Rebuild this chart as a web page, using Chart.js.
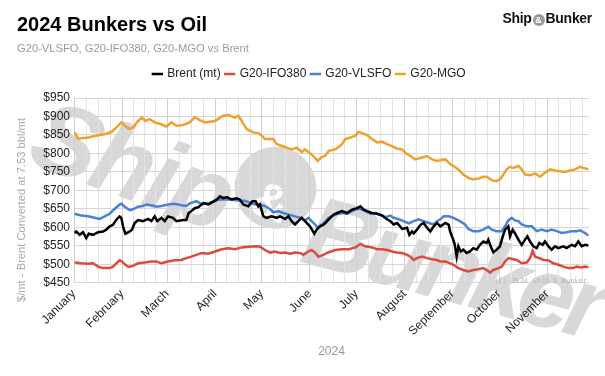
<!DOCTYPE html>
<html>
<head>
<meta charset="utf-8">
<script src="https://cdn.jsdelivr.net/npm/chart.js@4.4.1/dist/chart.umd.min.js"></script>
<style>
  body { margin: 0; background: #fff; }
  #wrap { position: relative; width: 605px; height: 376px; font-family: "Liberation Sans", Arial, sans-serif; }
  #chart { position: absolute; left: 0; top: 0; }
  .title { position: absolute; left: 17px; top: 13px; font-weight: bold; font-size: 20px; color: #000; }
  .subtitle { position: absolute; left: 17px; top: 42px; font-size: 11.2px; color: #9a9a9a; }
  .logo { position: absolute; right: 13px; top: 10px; font-weight: bold; font-size: 14px; color: #111; letter-spacing: -0.3px; }
  .logo .amp { display: inline-block; width: 12px; height: 12px; border-radius: 50%; background: #9a9a9a; color: #fff;
               font-size: 9px; line-height: 12px; text-align: center; vertical-align: 0px; margin: 0 1px; letter-spacing: 0; }
</style>
</head>
<body>
<div id="wrap">
  <canvas id="chart" width="605" height="376"></canvas>
  <div class="title">2024 Bunkers vs Oil</div>
  <div class="subtitle">G20-VLSFO, G20-IFO380, G20-MGO vs Brent</div>
  <div class="logo">Ship<span class="amp">&amp;</span>Bunker</div>
</div>
<script>
// ─── Data (x = day of 2024, 0 = 1 Jan; y = $/mt) ─────────────────────────────
const monthNames = ['January', 'February', 'March', 'April', 'May', 'June', 'July',
                    'August', 'September', 'October', 'November'];
const monthStarts = [0, 31, 60, 91, 121, 152, 182, 213, 244, 274, 305, 335];
const yTicks = [450, 500, 550, 600, 650, 700, 750, 800, 850, 900, 950];
const xMax = 332;

const brent = [
  [0.4,585],[1.5,589],[3.7,580],[5.8,587],[7.9,571],[9.5,583],[12.3,580],[15.5,587],[18.7,589],[20.8,594],
  [23,603],[25.1,607],[27.3,621],[29.4,630],[30.5,626],[31.6,603],[33.1,583],[35.2,587],[37.4,594],[39.1,612],
  [41.3,620],[44.5,617],[47.7,623],[49.9,617],[52,630],[53.7,617],[56.3,626],[58.5,617],[60.6,630],[63.8,626],
  [66,617],[70.3,620],[72.4,620],[73.9,639],[76.1,646],[77.8,652],[80.2,655],[83.4,666],[86.6,662],[88.7,667],
  [92,675],[94.1,684],[96.3,679],[98.4,682],[101.6,676],[104.9,679],[107,675],[109.2,662],[112.4,657],[115,671],
  [117.1,671],[118.8,657],[119.9,662],[122.1,630],[124.2,626],[127.4,630],[130.7,626],[132.8,630],[136,623],[138.2,630],
  [140.3,617],[142.5,608],[144.6,617],[146.8,626],[148.9,617],[152.1,603],[153.7,592],[154.9,583],[156.4,594],[158.6,603],
  [160.7,607],[162,612],[164.2,622],[167.4,635],[169.6,639],[172.8,644],[176,639],[179.2,648],[182.5,652],[184.6,657],
  [186.8,648],[188.9,644],[192.1,639],[195.4,637],[198.6,632],[201.8,622],[204,617],[206.1,608],[208.3,612],[211.5,596],
  [214.7,599],[216.2,580],[217.9,589],[219,584],[221.1,594],[223.3,607],[225.4,612],[227.6,599],[229.7,589],[231.9,603],
  [234,612],[236.2,603],[239.4,612],[241.6,607],[242.4,590],[244.1,571],[245.4,555],[246.7,521],[247.8,549],[249.3,535],
  [251,540],[253.1,531],[255.3,535],[257.4,544],[259.6,540],[261.7,553],[263.9,562],[266,558],[267.1,567],[268.6,549],
  [270.3,533],[272.5,540],[274.6,549],[276.4,576],[277.9,594],[280,603],[281.1,576],[282.8,594],[284.3,584],[286.5,567],
  [288.6,553],[290.8,567],[292.3,576],[294,562],[296.1,549],[298.3,544],[300,558],[302.1,553],[303.6,562],[305.8,549],
  [307.9,540],[310.1,549],[312.2,544],[315.5,549],[317.6,544],[320.8,553],[323,549],[325.1,562],[327.3,549],[329.4,553],
  [331.6,551]
];

const ifo380 = [
  [0.4,505],[4.7,503],[9,502],[12.3,503],[15.5,494],[18.7,490],[23,490],[25.1,494],[27.3,503],[29.4,511],
  [30.9,508],[33.1,499],[35.2,493],[38,496],[41.3,503],[45.6,505],[49.9,508],[53.1,508],[56.3,503],[60.6,508],
  [64.9,511],[69.2,512],[72.4,517],[75.7,521],[78.9,526],[82.3,531],[86.6,529],[90.9,535],[95.2,541],[99.5,544],
  [103.8,541],[108.1,546],[112.4,548],[117.8,549],[119.9,548],[123.1,539],[126.4,532],[129.6,535],[132.8,531],[136,532],
  [139.3,529],[142.5,532],[145.7,531],[147.8,526],[151.1,535],[153.2,539],[155.4,532],[157.5,521],[160.7,526],[164.2,533],
  [168.5,539],[172.8,541],[177.1,541],[181.4,546],[184.6,555],[187.8,549],[192.1,546],[195.4,541],[198.6,541],[201.8,539],
  [205,535],[208.3,532],[211.5,531],[214.7,526],[216.9,521],[219,512],[221.1,517],[224.4,521],[227.6,517],[230.8,514],
  [234,512],[236.2,508],[239.4,508],[242.6,503],[244.6,499],[247.8,490],[251,485],[254.2,481],[257.4,485],[260.7,487],
  [263.9,490],[266,485],[268.2,478],[270.3,485],[273.6,490],[275.7,494],[277.9,508],[280,517],[283.2,514],[285.4,512],
  [288.6,503],[291.8,505],[294,517],[295.7,537],[297.2,521],[300,517],[302.6,512],[305.8,511],[309,503],[312.2,499],
  [315.5,494],[318.7,490],[321.9,490],[324.1,494],[327.3,492],[329.4,494],[331.6,492]
];

const vlsfo = [
  [0.4,637],[4.7,632],[9,630],[13.3,626],[16.5,623],[19.8,630],[23,637],[26.2,650],[29.4,662],[30.5,664],
  [32.7,656],[35.9,647],[38,649],[41.3,656],[44.5,658],[46.6,662],[49.9,660],[53.1,656],[56.3,658],[60.6,662],
  [64.9,664],[69.2,660],[72.4,658],[74.6,665],[78.9,671],[82.3,663],[87.7,667],[93,675],[97.4,676],[101.6,675],
  [105.9,673],[110.2,672],[113.5,667],[116.7,662],[118.8,662],[123.1,658],[126.4,649],[128.5,641],[131.7,644],[135,639],
  [138.2,635],[142.5,630],[145.7,626],[148.9,619],[151.1,626],[153.2,617],[155.4,608],[157.1,599],[159.2,606],[161.8,615],
  [164.2,626],[168.5,635],[172.8,639],[176,637],[179.2,644],[182.5,650],[184.6,650],[187.8,644],[191.1,637],[194.3,639],
  [197.5,635],[200.7,628],[204,632],[206.1,626],[209.3,622],[212.5,617],[215.8,611],[219,617],[222.2,622],[225.4,617],
  [228.7,612],[231.9,608],[234,617],[236.2,622],[238.3,630],[241.6,630],[244.6,626],[248.8,617],[252.1,608],[254.2,596],
  [257.4,590],[260.7,590],[263.9,594],[267.1,602],[269.3,594],[272.5,590],[275.7,590],[277.9,603],[280,619],[282.2,626],
  [284.3,619],[286.5,617],[288.6,608],[291.8,603],[295.1,603],[298.3,590],[301.5,594],[304.7,590],[307.9,594],[311.2,590],
  [314.4,585],[317.6,587],[320.8,590],[324.1,590],[326.2,592],[329.4,585],[331.6,578]
];

const mgo = [
  [0.4,857],[2.6,840],[9,843],[15.5,849],[19.8,852],[24.1,858],[27.3,870],[30.5,884],[32.7,875],[35.9,866],
  [38,870],[41.3,888],[43.8,897],[46,888],[48.8,893],[52,884],[56.3,879],[59.5,873],[62.8,884],[66,875],
  [70.3,877],[74.6,884],[77.8,898],[81,890],[84.5,884],[90.9,888],[96.3,902],[99.5,904],[103.8,897],[105.9,902],
  [108.1,888],[111.3,866],[115.6,857],[118.8,855],[121,848],[123.1,839],[128.5,839],[130.7,825],[135,819],[137.1,816],
  [140.3,811],[143.6,816],[146.8,804],[148.9,811],[152.1,801],[154.3,793],[157.1,780],[159.2,789],[161.8,793],[164.2,807],
  [168.5,811],[172.8,825],[174.9,839],[178.2,843],[181.4,848],[183.5,859],[186.8,853],[188.9,850],[192.1,839],[195.4,830],
  [198.6,832],[201.8,825],[205,820],[208.3,813],[211.5,811],[213.6,802],[216.9,793],[220.1,784],[224.4,789],[227.6,793],
  [230.8,784],[234,780],[237.3,783],[239.4,784],[242.6,771],[244.6,766],[247.8,757],[251,743],[254.2,734],[257.4,730],
  [260.7,732],[263.9,737],[266,737],[269.3,728],[272.5,725],[274.6,730],[276.8,743],[278.9,757],[281.1,764],[283.2,761],
  [286.5,766],[288.6,757],[290.8,743],[294,741],[297.2,746],[300.4,737],[303.6,748],[306.9,757],[310.1,754],[313.3,752],
  [316.5,750],[319.8,754],[323,757],[326.2,764],[328.4,761],[331.6,757]
];

// ─── Helpers ─────────────────────────────────────────────────────────────────
const toXY = pts => pts.map(p => ({ x: p[0], y: p[1] }));
const FONT = '"Liberation Sans", Arial, sans-serif';

// quarter-month grid lines, month starts get a label
function buildXTicks(scale) {
  const ticks = [];
  for (let i = 0; i < monthNames.length; i++) {
    const len = monthStarts[i + 1] - monthStarts[i];
    for (let k = 0; k < 4; k++) {
      const v = monthStarts[i] + k * len / 4;
      if (v <= xMax) ticks.push({ value: v, major: k === 0 });
    }
  }
  scale.ticks = ticks;
}

function buildYTicks(scale) {
  const ticks = [];
  for (let v = yTicks[0]; v <= yTicks[yTicks.length - 1]; v += 25) ticks.push({ value: v });
  scale.ticks = ticks;
}

// big faint watermark, y caption, copyright, extra room under the legend
const decor = {
  id: 'decor',
  beforeLayout(chart) {
    const lg = chart.legend;
    if (lg && !lg._padded) {
      const fit = lg.fit;
      lg.fit = function () { fit.call(this); this.height += 8; };
      lg._padded = true;
    }
  },
  beforeDraw(chart) {
    const ctx = chart.ctx;
    const grey = 'rgb(216,216,216)';
    ctx.save();
    ctx.translate(34, 136);
    ctx.rotate(20 * Math.PI / 180);
    ctx.fillStyle = grey;
    ctx.font = 'italic bold 100px ' + FONT;
    ctx.letterSpacing = '-3px';
    ctx.fillText('Ship', 0, 0);
    const w = ctx.measureText('Ship').width;
    ctx.beginPath();
    ctx.arc(w + 40, -34, 41, 0, Math.PI * 2);
    ctx.fill();
    ctx.fillStyle = '#fff';
    ctx.letterSpacing = '0px';
    ctx.font = 'bold 50px ' + FONT;
    ctx.textAlign = 'center';
    ctx.fillText('&', w + 40, -16);
    ctx.textAlign = 'left';
    ctx.translate(w + 84, 0);
    ctx.rotate(-5 * Math.PI / 180);
    ctx.fillStyle = grey;
    ctx.font = 'italic bold 100px ' + FONT;
    ctx.letterSpacing = '-7px';
    ctx.fillText('Bunker', 0, 0);
    ctx.restore();
  },
  afterDraw(chart) {
    const ctx = chart.ctx;
    const area = chart.chartArea;
    ctx.save();
    ctx.translate(22, 210);
    ctx.rotate(-Math.PI / 2);
    ctx.fillStyle = '#a8a8a8';
    ctx.font = '11.2px ' + FONT;
    ctx.textAlign = 'center';
    ctx.textBaseline = 'middle';
    ctx.fillText('$/mt - Brent Converted at 7.53 bbl/mt', 0, 0);
    ctx.restore();
    ctx.save();
    ctx.fillStyle = '#b8b8b8';
    ctx.font = '7px "DejaVu Sans Mono", monospace';
    ctx.textAlign = 'right';
    ctx.fillText('(C) 2024 Ship & Bunker', area.right - 2, area.bottom - 2);
    ctx.restore();
  }
};

// ─── Chart ───────────────────────────────────────────────────────────────────
const series = [
  { label: 'Brent (mt)', pts: brent,  color: '#000000' },
  { label: 'G20-IFO380', pts: ifo380, color: '#db4a3c' },
  { label: 'G20-VLSFO',  pts: vlsfo,  color: '#4a80d8' },
  { label: 'G20-MGO',    pts: mgo,    color: '#f0a12c' },
];

new Chart(document.getElementById('chart'), {
  type: 'line',
  data: {
    datasets: series.map(s => ({
      label: s.label,
      data: toXY(s.pts),
      borderColor: s.color,
      backgroundColor: s.color,
      borderWidth: 2.5,
      pointRadius: 0,
      tension: 0,
    }))
  },
  options: {
    responsive: false,
    animation: false,
    layout: { padding: { left: 30, right: 16, top: 63, bottom: 17 } },
    plugins: {
      legend: {
        position: 'top',
        labels: {
          usePointStyle: true,
          pointStyle: 'line',
          boxWidth: 8,
          boxHeight: 8,
          padding: 5,
          color: '#222',
          font: { family: FONT, size: 12 }
        }
      },
      tooltip: { enabled: false }
    },
    scales: {
      x: {
        type: 'linear',
        min: 0,
        max: xMax,
        afterBuildTicks: buildXTicks,
        ticks: {
          autoSkip: false,
          minRotation: 45,
          maxRotation: 45,
          padding: 4,
          color: '#222',
          font: { family: FONT, size: 12 },
          callback: v => {
            const i = monthStarts.indexOf(v);
            return i >= 0 && i < monthNames.length ? monthNames[i] : '';
          }
        },
        grid: {
          drawTicks: false,
          color: c => (c.tick && c.tick.major) ? '#cfcfcf' : '#e3e3e3'
        },
        border: { display: false },
        title: {
          display: true,
          text: '2024',
          color: '#999',
          padding: { top: 2, bottom: 0 },
          font: { family: FONT, size: 12 }
        }
      },
      y: {
        min: yTicks[0],
        max: yTicks[yTicks.length - 1],
        afterBuildTicks: buildYTicks,
        afterFit: scale => { scale.width = 44; },
        ticks: {
          padding: 4,
          color: '#222',
          font: { family: FONT, size: 12 },
          callback: v => v % 50 === 0 ? '$' + v : ''
        },
        grid: {
          drawTicks: false,
          color: c => (c.tick && c.tick.value % 50 === 0) ? '#d6d6d6' : '#e6e6e6'
        },
        border: { display: false }
      }
    }
  },
  plugins: [decor]
});
</script>
</body>
</html>
